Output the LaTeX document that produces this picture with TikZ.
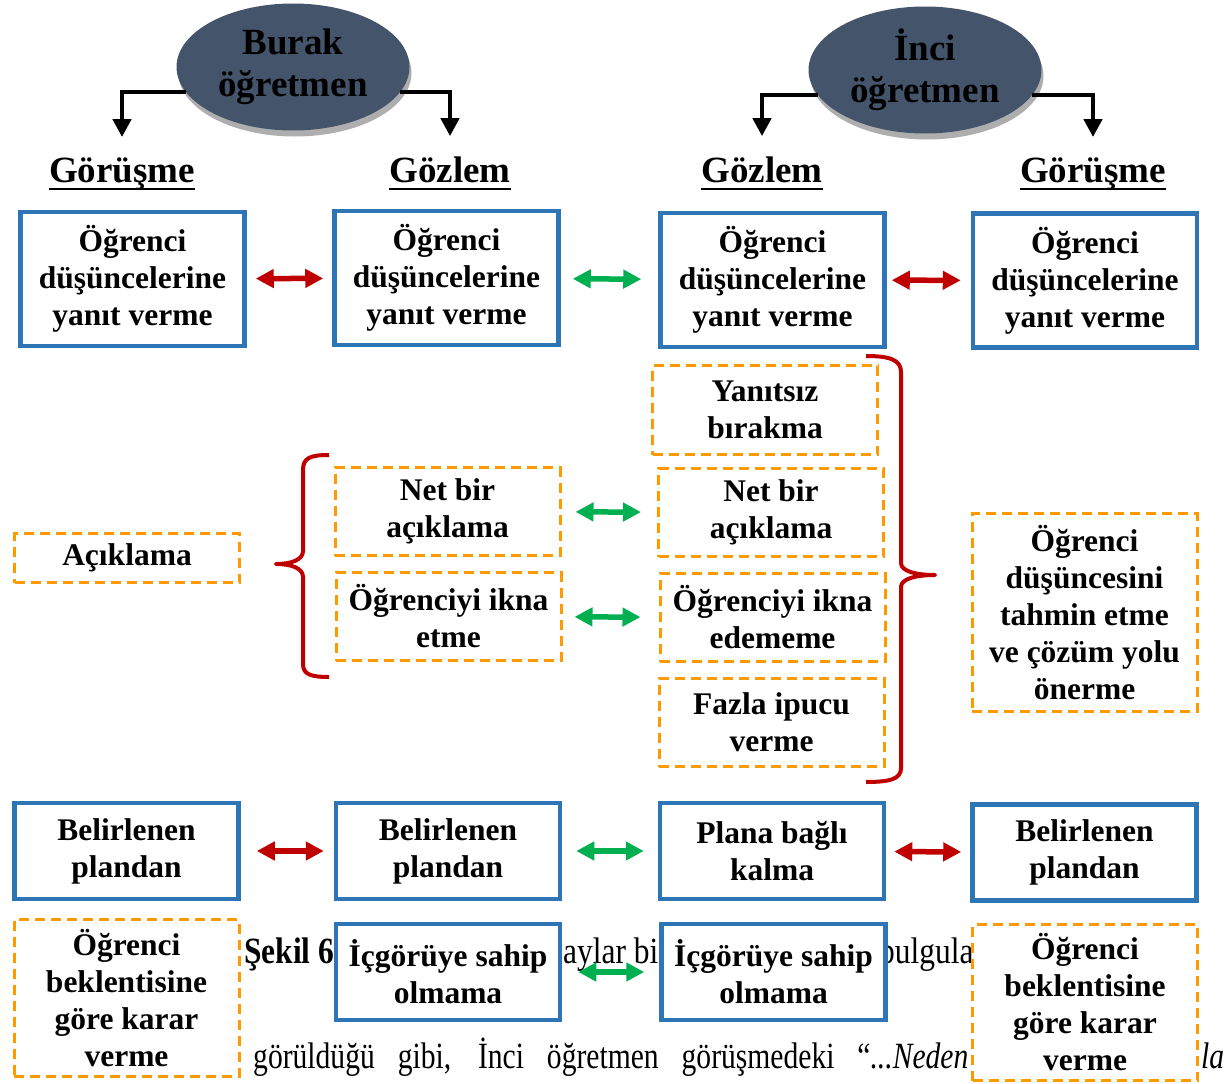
\documentclass[tikz,border=0pt]{standalone}
\usepackage{fontspec}
\usepackage{graphicx}
\setmainfont{Liberation Serif}
\usetikzlibrary{arrows.meta,positioning,shapes.geometric,shadows}
\definecolor{boxblue}{RGB}{46,117,182}
\definecolor{dashorange}{RGB}{255,153,0}
\definecolor{arrred}{RGB}{192,0,0}
\definecolor{arrgreen}{RGB}{0,176,80}
\definecolor{slate}{RGB}{68,84,106}

\begin{document}
\begin{tikzpicture}[x=1pt, y=-1pt, >={Triangle[length=18pt,width=18pt]},
  box/.style={align=center, inner sep=0pt, fill=white, font=\fontsize{31.5}{37}\selectfont\bfseries},
  solidbox/.style={box, draw=boxblue, line width=4.5pt, minimum width=224pt},
  dashbox/.style={box, draw=dashorange, line width=3pt, dash pattern=on 10pt off 6pt, minimum width=225pt},
  teacher/.style={ellipse, fill=slate, minimum width=233pt, minimum height=127pt, inner sep=0pt, align=center,
    font=\fontsize{37}{42}\selectfont\bfseries, drop shadow={shadow xshift=2pt, shadow yshift=-6pt, fill=black!45, opacity=0.7}},
  head/.style={inner sep=0pt, anchor=base, font=\fontsize{37}{42}\selectfont\bfseries},
  elbow/.style={line width=4.5pt, ->, shorten >=20pt},
  redarr/.style={draw=arrred, line width=5.5pt, <->},
  greenarr/.style={redarr, draw=arrgreen},
  bracket/.style={draw=arrred, line width=4pt, line join=round},
  bgtext/.style={inner sep=0pt, anchor=base west, font=\fontsize{37}{42}\selectfont}]
\path[use as bounding box, fill=white] (0,0) rectangle (1227,1084);

\node[bgtext] (sekil) at (244,963) {\scalebox{0.85}[1]{\bfseries Şekil 6.}};
\node[bgtext] (aylar) at (563,963) {\scalebox{0.85}[1]{aylar bil}};
\node[bgtext] (bulgu) at (879,963) {\scalebox{0.85}[1]{bulgula}};
\node[bgtext] (satir) at (253,1068) {\scalebox{0.8}[1]{\makebox[894pt][s]{görüldüğü gibi, İnci öğretmen görüşmedeki “\textit{...Neden}}}};
\node[bgtext] (la) at (1201,1068) {\scalebox{0.8}[1]{\itshape la}};

\node[teacher] (burak) at (293,67) {Burak\\öğretmen};
\node[teacher] (inci) at (925,70) {İnci\\öğretmen};
\node[head] (gor1) at (122,182) {Görüşme};
\node[head] (goz1) at (450,182) {Gözlem};
\node[head] (goz2) at (762,182) {Gözlem};
\node[head] (gor2) at (1093,182) {Görüşme};
\foreach \h in {gor1,goz1,goz2,gor2}
  \draw[line width=2.5pt] ([yshift=-7pt]\h.base west) -- ([yshift=-7pt]\h.base east);
\draw[elbow] (burak.193) -| (gor1.north);
\draw[elbow] (burak.347) -| (goz1.north);
\draw[elbow] (inci.193) -| (goz2.north);
\draw[elbow] (inci.347) -| (gor2.north);

\node[solidbox, minimum height=134pt] (y1) at (132.5,279) {Öğrenci\\düşüncelerine\\yanıt verme};
\node[solidbox, minimum height=134pt] (y2) at (446.5,278) {Öğrenci\\düşüncelerine\\yanıt verme};
\node[solidbox, minimum height=134pt] (y3) at (772.5,280) {Öğrenci\\düşüncelerine\\yanıt verme};
\node[solidbox, minimum height=134pt] (y4) at (1085,280.5) {Öğrenci\\düşüncelerine\\yanıt verme};
\draw[redarr, shorten <=9pt, shorten >=9pt] (y1) -- (y2);
\draw[greenarr, shorten <=12pt, shorten >=17pt] (y2) -- (y3);
\draw[redarr, shorten <=5pt, shorten >=10pt] (y3) -- (y4);

\node[dashbox, minimum height=49pt] (acik) at (127,558) {Açıklama};
\node[dashbox, minimum height=88pt] (net1) at (447.5,511.5) {Net bir\\açıklama};
\node[dashbox, minimum height=88pt] (ikna1) at (448.5,616.5) {Öğrenciyi ikna\\etme};
\node[dashbox, minimum height=89pt] (yanit) at (765,410) {Yanıtsız\\bırakma};
\node[dashbox, minimum height=88pt] (net2) at (771,512.5) {Net bir\\açıklama};
\node[dashbox, minimum height=88pt] (ikna2) at (772.5,617.5) {Öğrenciyi ikna\\edememe};
\node[dashbox, minimum height=88pt] (ipucu) at (771.5,722.5) {Fazla ipucu\\verme};
\node[dashbox, minimum height=198pt] (tahmin) at (1084.5,612.5) {Öğrenci\\düşüncesini\\tahmin etme\\ve çözüm yolu\\önerme};
\draw[greenarr, shorten <=14pt, shorten >=16pt] (net1) -- (net2);
\draw[greenarr, shorten <=12pt, shorten >=18pt] (ikna1) -- (ikna2);
\draw[bracket] (329,455) .. controls (310,455) and (303,458) .. (303,470) -- (303,551)
  .. controls (303,560) and (291,564) .. (276,564) .. controls (291,564) and (303,568) .. (303,577)
  -- (303,664) .. controls (303,674) and (310,677) .. (329,677);
\draw[bracket] (866,356) .. controls (890,356) and (901,360) .. (901,372) -- (901,563)
  .. controls (901,571) and (915,575) .. (935,575) .. controls (915,575) and (901,579) .. (901,587)
  -- (901,768) .. controls (901,779) and (890,782) .. (866,782);

\node[solidbox, minimum height=96pt] (p1) at (126.5,851) {Belirlenen\\plandan};
\node[solidbox, minimum height=96pt] (p2) at (448,851) {Belirlenen\\plandan};
\node[solidbox, minimum height=96pt] (p3) at (772,851) {Plana bağlı\\kalma};
\node[solidbox, minimum height=96pt] (p4) at (1084.5,852.5) {Belirlenen\\plandan};
\draw[redarr, shorten <=16pt, shorten >=10pt] (p1) -- (p2);
\draw[greenarr, shorten <=14pt, shorten >=14pt] (p2) -- (p3);
\draw[redarr, shorten <=8pt, shorten >=9pt] (p3) -- (p4);

\node[dashbox, minimum height=157pt] (bek1) at (126.5,998) {Öğrenci\\beklentisine\\göre karar\\verme};
\node[solidbox, minimum height=96pt] (ic1) at (448,972) {İçgörüye sahip\\olmama};
\node[solidbox, minimum height=96pt] (ic2) at (773.5,972) {İçgörüye sahip\\olmama};
\node[dashbox, minimum height=156pt] (bek2) at (1085,1002.5) {Öğrenci\\beklentisine\\göre karar\\verme};
\draw[greenarr, shorten <=16pt, shorten >=15pt] (ic1) -- (ic2);
\end{tikzpicture}
\end{document}
